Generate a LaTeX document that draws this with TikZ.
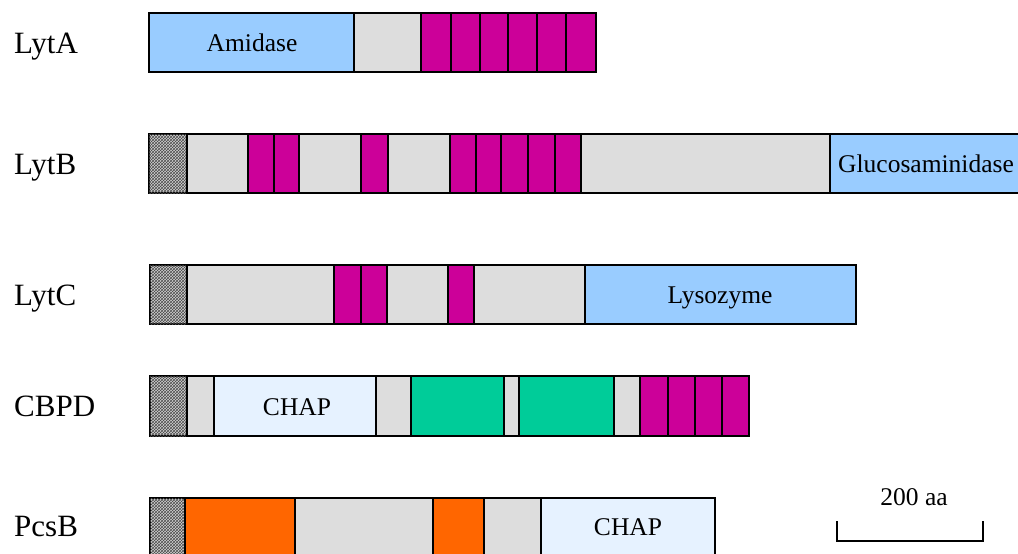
\documentclass[tikz,border=0pt]{standalone}
\usepackage{fontspec}
\setmainfont{Liberation Serif}
\usetikzlibrary{patterns}
\definecolor{dblue}{HTML}{99CCFF}
\definecolor{dgrey}{HTML}{DDDDDD}
\definecolor{dmag}{HTML}{CC0099}
\definecolor{dgreen}{HTML}{00CC99}
\definecolor{dorange}{HTML}{FF6600}
\definecolor{dchap}{HTML}{E6F2FF}
\begin{document}
\begin{tikzpicture}[x=1pt,y=-1pt,
  seg/.style={draw=black,line width=2.2pt},
  bluebox/.style={seg,fill=dblue},
  greybox/.style={seg,fill=dgrey},
  magbox/.style={seg,fill=dmag},
  greenbox/.style={seg,fill=dgreen},
  orangebox/.style={seg,fill=dorange},
  chapbox/.style={seg,fill=dchap},
  hatchbox/.style={seg,fill=gray!35,postaction={pattern=crosshatch,pattern color=black!70}},
  rowlabel/.style={font=\fontsize{31}{36}\selectfont,anchor=base west,inner sep=0pt},
  domlabel/.style={font=\fontsize{25.5}{30}\selectfont,anchor=base,inner sep=0pt},
  scalebar/.style={draw=black,line width=2pt}]
\useasboundingbox (0,0) rectangle (1018,554);
\clip (0,0) rectangle (1018,554);
\fill[white] (0,0) rectangle (1018,554);

% ---- LytA ----
\path[bluebox] (149,13) rectangle (354,72);
\path[greybox] (354,13) rectangle (421,72);
\foreach \a/\b in {421/451,451/480,480/508,508/537,537/566,566/596}
  \path[magbox] (\a,13) rectangle (\b,72);
\node[rowlabel] (lyta) at (14,53) {LytA};
\node[domlabel] (amidase) at (252,51.5) {Amidase};

% ---- LytB ----
\path[hatchbox] (149,134) rectangle (187,193);
\path[greybox] (187,134) rectangle (248,193);
\path[greybox] (299,134) rectangle (361,193);
\path[greybox] (388,134) rectangle (450,193);
\path[greybox] (581,134) rectangle (830,193);
\foreach \a/\b in {248/274,274/299,361/388,450/476,476/501,501/528,528/555,555/581}
  \path[magbox] (\a,134) rectangle (\b,193);
\path[bluebox] (830,134) rectangle (1022,193);
\node[rowlabel] (lytb) at (14,174) {LytB};
\node[domlabel] (gluc) at (926,172.5) {Glucosaminidase};

% ---- LytC ----
\path[hatchbox] (150,265) rectangle (187,324);
\path[greybox] (187,265) rectangle (334,324);
\path[greybox] (387,265) rectangle (448,324);
\path[greybox] (474,265) rectangle (585,324);
\foreach \a/\b in {334/361,361/387,448/474}
  \path[magbox] (\a,265) rectangle (\b,324);
\path[bluebox] (585,265) rectangle (856,324);
\node[rowlabel] (lytc) at (14,305) {LytC};
\node[domlabel] (lyso) at (720,303.5) {Lysozyme};

% ---- CBPD ----
\path[hatchbox] (150,376) rectangle (187,436);
\path[greybox] (187,376) rectangle (214,436);
\path[chapbox] (214,376) rectangle (376,436);
\path[greybox] (376,376) rectangle (411,436);
\path[greenbox] (411,376) rectangle (504,436);
\path[greybox] (504,376) rectangle (519,436);
\path[greenbox] (519,376) rectangle (614,436);
\path[greybox] (614,376) rectangle (640,436);
\foreach \a/\b in {640/668,668/695,695/722,722/749}
  \path[magbox] (\a,376) rectangle (\b,436);
\node[rowlabel] (cbpd) at (14,416.5) {CBPD};
\node[domlabel] (chap1) at (297,415) {CHAP};

% ---- PcsB ----
\path[hatchbox] (150,498) rectangle (185,562);
\path[orangebox] (185,498) rectangle (295,562);
\path[greybox] (295,498) rectangle (433,562);
\path[orangebox] (433,498) rectangle (484,562);
\path[greybox] (484,498) rectangle (541,562);
\path[chapbox] (541,498) rectangle (715,562);
\node[rowlabel] (pcsb) at (14,536.5) {PcsB};
\node[domlabel] (chap2) at (628,535.5) {CHAP};

% ---- scale bar ----
\coordinate (sbl) at (837,521);
\coordinate (sbr) at (983,521);
\draw[scalebar] (sbl) -- (sbl |- 0,541) -- (sbr |- 0,541) -- (sbr);
\node[domlabel] (aa) at (914,505) {200 aa};
\end{tikzpicture}
\end{document}
